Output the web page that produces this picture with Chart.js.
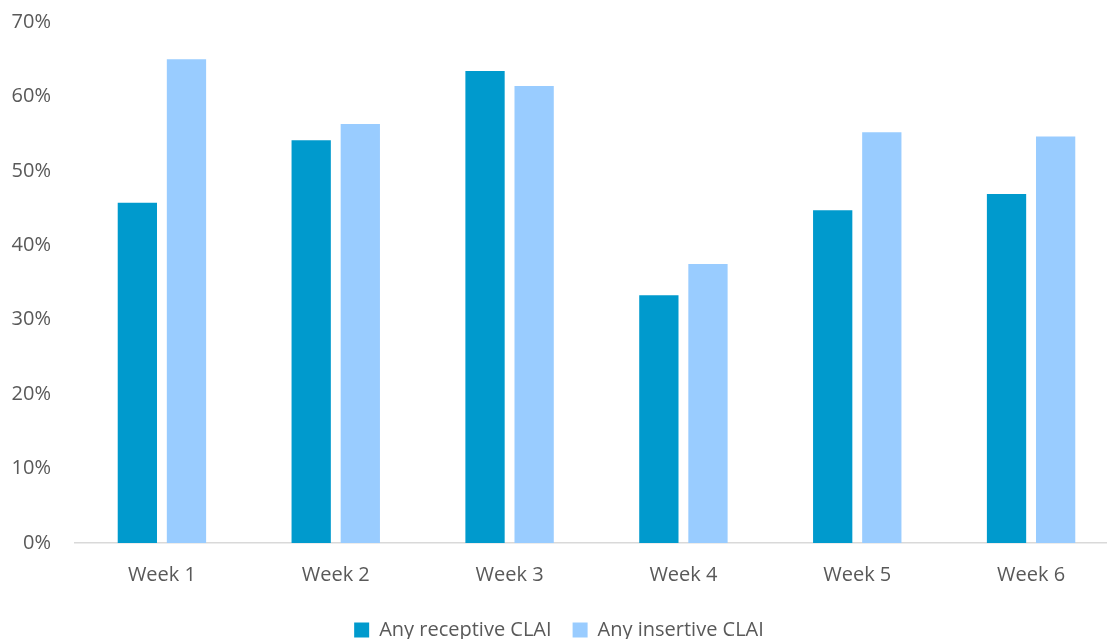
<!DOCTYPE html>
<html>
<head>
<meta charset="utf-8">
<script src="https://cdn.jsdelivr.net/npm/chart.js@4/dist/chart.umd.min.js"></script>
<style>
  html, body { margin: 0; padding: 0; background: #fff; overflow: hidden; }
  #wrap { width: 1107px; height: 639px; position: relative; overflow: hidden; }
  #myChart { position: absolute; left: 0; top: -6px; }
</style>
</head>
<body>
<div id="wrap"><canvas id="myChart" width="1118" height="656"></canvas></div>
<script>
const categories = ['Week 1', 'Week 2', 'Week 3', 'Week 4', 'Week 5', 'Week 6'];
const receptive = [0.457, 0.541, 0.634, 0.333, 0.447, 0.469];
const insertive = [0.650, 0.563, 0.614, 0.375, 0.552, 0.546];
const yTicks = [0, 0.1, 0.2, 0.3, 0.4, 0.5, 0.6, 0.7];
const fontSpec = { family: 'Open Sans', size: 20 };

function buildChart() {
    const data = {
        labels: categories,
        datasets: [
            {
                label: 'Any receptive CLAI',
                data: receptive,
                backgroundColor: '#009ACD',
                categoryPercentage: 0.565,
                barPercentage: 0.8,
            },
            {
                label: 'Any insertive CLAI',
                data: insertive,
                backgroundColor: '#99CCFF',
                categoryPercentage: 0.565,
                barPercentage: 0.8,
            }
        ]
    };

    const config = {
        type: 'bar',
        data: data,
        options: {
            responsive: false,
            animation: false,
            layout: { padding: { top: 0, bottom: 0, left: 0, right: 0 } },
            plugins: {
                legend: {
                    position: 'bottom',
                    labels: {
                        color: '#595959',
                        font: fontSpec,
                        boxWidth: 15,
                        boxHeight: 15,
                        padding: 21,
                        useBorderRadius: false,
                    }
                },
                tooltip: { enabled: false }
            },
            scales: {
                x: {
                    grid: { display: false },
                    border: { display: true, color: '#D9D9D9', width: 1.5 },
                    ticks: {
                        color: '#595959',
                        font: fontSpec,
                        padding: 12,
                    }
                },
                y: {
                    min: 0,
                    max: 0.7,
                    afterBuildTicks: (axis) => { axis.ticks = yTicks.map(v => ({ value: v })); },
                    grid: { display: false },
                    border: { display: false },
                    afterFit: (axis) => { axis.width = 75; },
                    ticks: {
                        color: '#595959',
                        font: fontSpec,
                        padding: 16,
                        callback: (v) => Math.round(v * 100) + '%'
                    }
                }
            }
        },
    };

    new Chart(document.getElementById('myChart').getContext('2d'), config);
}
buildChart();
</script>
</body>
</html>
